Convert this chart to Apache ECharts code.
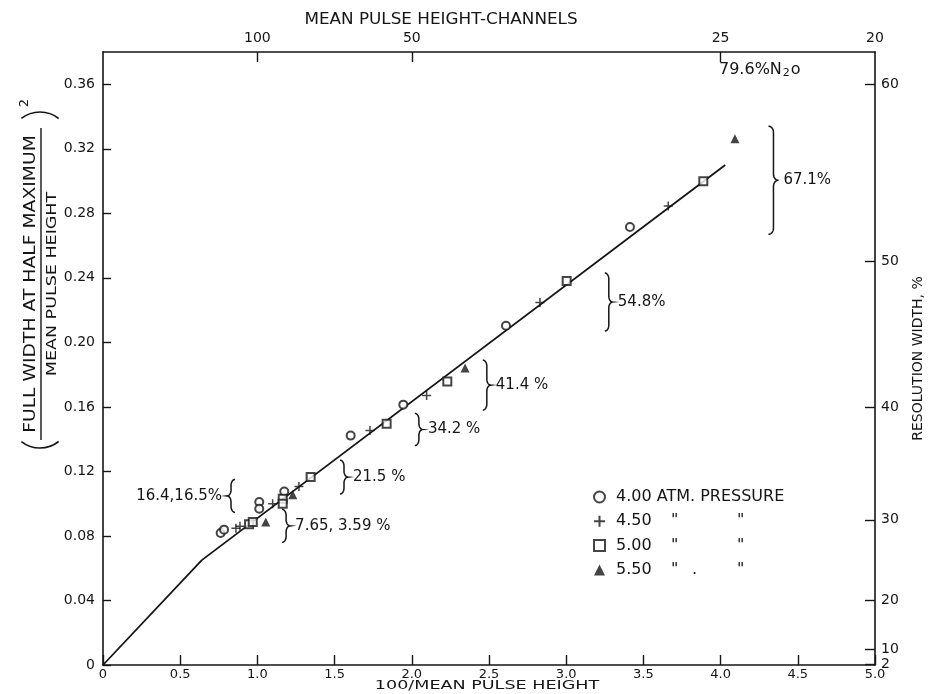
<!DOCTYPE html>
<html><head><meta charset="utf-8">
<script src="https://cdn.jsdelivr.net/npm/echarts@6/dist/echarts.min.js"></script>
<style>html,body{margin:0;padding:0;background:#fff}#c{width:932px;height:694px}</style>
</head><body><div id="c"></div>
<script>
// ---- data ----
const circles400 = [[0.762,0.0818],[0.784,0.0839],[1.012,0.101],[1.012,0.0969],[1.174,0.1076],[1.604,0.1422],[1.945,0.1614],[2.61,0.2103],[3.413,0.2715]];
const plus450 = [[0.861,0.0847],[0.887,0.086],[1.099,0.1],[1.269,0.1107],[1.729,0.1453],[2.096,0.167],[2.83,0.2247],[3.661,0.2845]];
const squares500 = [[0.946,0.0872],[0.97,0.0886],[1.164,0.1031],[1.164,0.1],[1.345,0.1165],[1.837,0.1495],[2.23,0.1758],[3.003,0.2381],[3.888,0.2999]];
const triangles550 = [[1.054,0.0886],[1.229,0.1056],[2.345,0.1841],[4.093,0.3263]];
const fitLine = [[0,0],[0.64,0.065],[4.03,0.31]];

const bottomTicks = [0,0.5,1.0,1.5,2.0,2.5,3.0,3.5,4.0,4.5,5.0];
const topChannelTicks = [100,50,25,20];           // 100 / x
const rightResolutionTicks = [2,10,20,30,40,50,60]; // 100*sqrt(y)

const bracketLabels = ['67.1%','54.8%','41.4 %','34.2 %','21.5 %','16.4,16.5%','7.65, 3.59 %'];
const bracketX  = [4.31, 3.25, 2.46, 2.02, 1.535, 0.855, 1.16];
const bracketY0 = [0.267, 0.207, 0.158, 0.136, 0.106, 0.0946, 0.076];
const bracketY1 = [0.334, 0.243, 0.189, 0.156, 0.127, 0.115, 0.0965];
const bracketSide = ['r','r','r','r','r','l','r'];

const legendNames = ['4.00','4.50','5.00','5.50'];

// ---- chart ----
const INK = '#151515';
const FONT = 'DejaVu Sans';
const X_MAX = 5, Y_MAX = 0.38;
const chart = echarts.init(document.getElementById('c'), null, {renderer:'canvas'});

const rightVals = rightResolutionTicks.map(r => r*r/10000);
const topVals = topChannelTicks.map(c => 100/c);

function bracketItem(params, api) {
  const i = params.dataIndex;
  const pB = api.coord([api.value(0), api.value(1)]);
  const pT = api.coord([api.value(0), api.value(2)]);
  const dir = bracketSide[i] === 'r' ? 1 : -1;
  const h = pB[1] - pT[1];
  const w = (h > 70 ? 10 : 8) * dir;
  const xe = pB[0], yt = pT[1], yb = pB[1], ym = (yt + yb) / 2;
  const xm = xe + w/2, xt = xe + w;
  const r = Math.min(6, h/5);
  const pts = [];
  const arc = (cx, cy, a0, a1, rx, ry) => { for (let k = 0; k <= 10; k++) { const a = a0 + (a1 - a0)*k/10; pts.push([cx + rx*Math.cos(a), cy + ry*Math.sin(a)]); } };
  const rx = xm - xe;
  arc(xe, yt + r, -Math.PI/2, 0, rx, r);
  arc(xt, ym - r, Math.PI, Math.PI/2, xt - xm, r);
  arc(xt, ym + r, -Math.PI/2, -Math.PI, xt - xm, r);
  arc(xe, yb - r, 0, Math.PI/2, rx, r);
  return {type:'group', children:[
    {type:'polyline', shape:{points: pts}, style:{fill:null, stroke:INK, lineWidth:1.5}},
    {type:'text', x: xt + 5*dir, y: ym, style:{text: bracketLabels[i], fill:INK, font:'15px "DejaVu Sans"', align: dir>0?'left':'right', verticalAlign:'middle'}}
  ]};
}

const richBase = {fontFamily:FONT, fontSize:16, color:INK, lineHeight:14};
function legendFmt(name){
  if (name === '4.00') return '{s|}{v|4.00 ATM. PRESSURE}';
  if (name === '5.50') return '{s|}{v|5.50}{d|"}{p|.}{e|"}';
  return '{s|}{v|' + name + '}{w|"}{e|"}';
}

const axisLineStyle = {show:true, onZero:false, lineStyle:{color:INK, width:1.6}};

chart.setOption({
  animation:false,
  backgroundColor:'#fff',
  grid:{left:103, right:57, top:52, bottom:29, containLabel:false, outerBoundsMode:'none'},
  legend:{
    data: legendNames, orient:'vertical', left:588, top:484, itemWidth:11, itemHeight:11, itemGap:8.3,
    formatter: legendFmt,
    textStyle:{...richBase, rich:{
      s:{width:6, lineHeight:14}, v:{...richBase, width:55}, w:{...richBase, width:66}, d:{...richBase, width:21}, p:{...richBase, width:45}, e:{...richBase}
    }}
  },
  xAxis:[
    {type:'value', min:0, max:X_MAX, interval:0.5, position:'bottom',
     axisLine:axisLineStyle,
     axisTick:{show:true, inside:true, length:10, lineStyle:{color:INK, width:1.4}},
     axisLabel:{margin:3, fontFamily:FONT, fontSize:13, color:INK, formatter:v => v===0 ? '0' : v.toFixed(1)},
     splitLine:{show:false}},
    {type:'value', min:0, max:X_MAX, position:'top',
     axisLine:axisLineStyle,
     axisTick:{show:true, inside:true, length:10, customValues: topVals.slice(0,3), lineStyle:{color:INK, width:1.4}},
     axisLabel:{customValues: topVals, margin:7, fontFamily:FONT, fontSize:14, color:INK, formatter:v => String(Math.round(100/v))},
     splitLine:{show:false}}
  ],
  yAxis:[
    {type:'value', min:0, max:Y_MAX, interval:0.04, position:'left',
     axisLine:axisLineStyle,
     axisTick:{show:true, inside:true, length:8, lineStyle:{color:INK, width:1.4}},
     axisLabel:{showMaxLabel:false, margin:8, fontFamily:FONT, fontSize:14, color:INK, formatter:v => v===0 ? '0' : v.toFixed(2)},
     splitLine:{show:false}},
    {type:'value', min:0, max:Y_MAX, position:'right',
     name:'RESOLUTION WIDTH, %', nameLocation:'middle', nameGap:36, nameRotate:90,
     nameTextStyle:{fontFamily:FONT, fontSize:14, color:INK},
     axisLine:axisLineStyle,
     axisTick:{show:true, inside:true, length:10, customValues: rightVals, lineStyle:{color:INK, width:1.4}},
     axisLabel:{customValues: rightVals, margin:6, fontFamily:FONT, fontSize:14, color:INK, formatter:v => String(Math.round(Math.sqrt(v)*100))},
     splitLine:{show:false}}
  ],
  series:[
    {type:'line', data: fitLine, showSymbol:false, symbol:'none', lineStyle:{color:INK, width:1.8}, z:1, silent:true},
    {name:'4.00', type:'scatter', data: circles400, symbol:'emptyCircle', symbolSize:8, itemStyle:{color:INK, borderColor:INK, borderWidth:1.4}, z:3},
    {name:'4.50', type:'scatter', data: plus450, symbol:'path://M5,0V10M0,5H10', symbolSize:9, itemStyle:{color:INK, borderColor:INK, borderWidth:1.5}, z:3},
    {name:'5.00', type:'scatter', data: squares500, symbol:'emptyRect', symbolSize:8, itemStyle:{color:INK, borderColor:INK, borderWidth:1.4}, z:3},
    {name:'5.50', type:'scatter', data: triangles550, symbol:'triangle', symbolSize:9, itemStyle:{color:INK}, z:3},
    {type:'custom', renderItem: bracketItem, silent:true, clip:false, encode:{x:0, y:[1,2]},
     data: bracketX.map((x,i)=>[x, bracketY0[i], bracketY1[i]]), z:4}
  ],
  graphic:[
    {type:'text', x:441, y:20, scaleX:1.12, style:{text:'MEAN PULSE HEIGHT-CHANNELS', font:'15px "DejaVu Sans"', fill:INK, align:'center', verticalAlign:'middle'}},
    {type:'text', x:487, y:686, scaleX:1.35, style:{text:'100/MEAN PULSE HEIGHT', font:'13px "DejaVu Sans"', fill:INK, align:'center', verticalAlign:'middle'}},
    {type:'text', left:719, top:62, style:{text:'79.6%N{s|2}o', font:'16px "DejaVu Sans"', fill:INK,
      rich:{s:{fontFamily:FONT, fontSize:11, color:INK, padding:[7,1,0,1]}}}},
    {type:'text', x:31, y:284, rotation:Math.PI/2, scaleX:1.25, style:{text:'FULL WIDTH AT HALF MAXIMUM', font:'15px "DejaVu Sans"', fill:INK, align:'center', verticalAlign:'middle'}},
    {type:'line', shape:{x1:41, y1:128, x2:41, y2:440}, style:{stroke:INK, lineWidth:1.4}},
    {type:'text', x:52, y:284, rotation:Math.PI/2, scaleX:1.25, style:{text:'MEAN PULSE HEIGHT', font:'14px "DejaVu Sans"', fill:INK, align:'center', verticalAlign:'middle'}},
    {type:'arc', shape:{cx:40, cy:418, r:30, startAngle:0.9, endAngle:2.24, clockwise:true}, style:{stroke:INK, lineWidth:1.6, fill:null}},
    {type:'arc', shape:{cx:40, cy:142, r:30, startAngle:-2.24, endAngle:-0.9, clockwise:true}, style:{stroke:INK, lineWidth:1.6, fill:null}},
    {type:'text', x:25, y:103, rotation:Math.PI/2, style:{text:'2', font:'13px "DejaVu Sans"', fill:INK, align:'center', verticalAlign:'middle'}}
  ]
});
</script></body></html>
